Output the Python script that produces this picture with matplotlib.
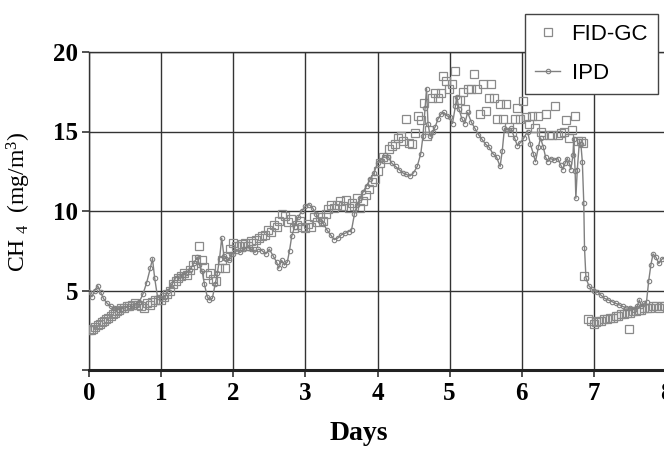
import matplotlib
matplotlib.use("Agg")
import matplotlib.pyplot as plt

plt.rcParams['mathtext.fontset'] = 'custom'
plt.rcParams['mathtext.rm'] = 'Liberation Serif'
plt.rcParams['mathtext.it'] = 'Liberation Serif:italic'

# IPD readings (days, mg/m3)
ipd_days = [0.00, 0.04, 0.08, 0.12, 0.16, 0.20, 0.25, 0.30, 0.35, 0.40, 0.45, 0.50,
            0.55, 0.60, 0.65, 0.70, 0.75, 0.80, 0.85, 0.88, 0.91, 0.95, 1.00, 1.05,
            1.10, 1.15, 1.20, 1.25, 1.30, 1.35, 1.40, 1.45, 1.50, 1.53, 1.57, 1.60,
            1.64, 1.67, 1.71, 1.75, 1.78, 1.81, 1.84, 1.87, 1.90, 1.94, 1.97, 2.00,
            2.05, 2.10, 2.15, 2.20, 2.25, 2.30, 2.35, 2.40, 2.45, 2.50, 2.55, 2.60,
            2.63, 2.67, 2.71, 2.75, 2.78, 2.81, 2.85, 2.90, 2.95, 3.00, 3.05, 3.10,
            3.15, 3.20, 3.25, 3.30, 3.35, 3.40, 3.45, 3.50, 3.55, 3.60, 3.64, 3.68,
            3.72, 3.76, 3.80, 3.85, 3.90, 3.95, 4.00, 4.05, 4.10, 4.15, 4.20, 4.25,
            4.30, 4.35, 4.40, 4.45, 4.50, 4.55, 4.60, 4.63, 4.66, 4.68, 4.70, 4.73,
            4.77, 4.80, 4.84, 4.88, 4.92, 4.96, 5.00, 5.04, 5.08, 5.10, 5.13, 5.17,
            5.21, 5.25, 5.30, 5.35, 5.40, 5.45, 5.50, 5.55, 5.60, 5.65, 5.70, 5.73,
            5.76, 5.80, 5.85, 5.90, 5.94, 5.98, 6.03, 6.08, 6.12, 6.16, 6.19, 6.23,
            6.26, 6.30, 6.33, 6.36, 6.40, 6.45, 6.50, 6.54, 6.57, 6.60, 6.63, 6.66,
            6.68, 6.71, 6.72, 6.74, 6.75, 6.77, 6.80, 6.82, 6.84, 6.86, 6.87, 6.89,
            6.93, 6.97, 7.00, 7.05, 7.10, 7.15, 7.20, 7.25, 7.30, 7.35, 7.40, 7.45,
            7.50, 7.55, 7.60, 7.63, 7.66, 7.70, 7.73, 7.76, 7.79, 7.82, 7.86, 7.90,
            7.95, 8.00]
ipd_vals = [4.9, 4.6, 5.0, 5.3, 4.9, 4.5, 4.2, 4.0, 3.9, 3.8, 3.85, 3.9,
            4.0, 4.0, 4.1, 4.3, 4.8, 5.5, 6.4, 7.0, 5.8, 4.6, 4.5, 4.6,
            5.0, 5.4, 5.8, 5.9, 6.0, 6.1, 6.3, 6.7, 7.1, 6.6, 6.2, 5.4,
            4.6, 4.4, 4.5, 5.4, 6.1, 7.0, 8.3, 7.2, 7.0, 6.9, 7.3, 7.3,
            7.5, 7.4, 7.6, 7.7, 7.6, 7.4, 7.6, 7.5, 7.3, 7.6, 7.2, 6.8,
            6.4, 6.9, 6.6, 6.8, 7.5, 8.4, 9.0, 9.6, 10.0, 10.3, 10.4, 10.2,
            9.8, 9.4, 9.2, 8.8, 8.5, 8.2, 8.3, 8.5, 8.6, 8.7, 8.8, 9.8,
            10.4, 10.8, 11.2, 11.6, 12.0, 12.4, 13.0, 13.2, 13.5, 13.4, 13.0, 12.8,
            12.6, 12.4, 12.3, 12.2, 12.4, 12.8, 13.6, 14.7, 16.5, 17.7, 15.5, 14.7,
            15.0, 15.3, 15.8, 16.1, 16.2, 16.0, 15.9, 15.5, 16.6, 17.2, 16.4, 15.8,
            15.5, 16.2, 15.6, 15.2, 14.8, 14.5, 14.2, 14.0, 13.6, 13.4, 12.8, 13.8,
            15.2, 15.1, 15.2, 14.6, 14.1, 14.3, 14.6, 15.0, 14.2, 13.6, 13.1, 14.0,
            14.6, 14.0, 13.4, 13.1, 13.3, 13.2, 13.3, 12.9, 12.6, 13.0, 13.3, 13.0,
            12.6, 13.5, 14.5, 12.5, 10.8, 12.6, 14.4, 14.2, 13.1, 10.5, 7.7, 5.8,
            5.3, 5.1, 5.0, 4.9, 4.7, 4.5, 4.4, 4.3, 4.2, 4.1, 4.0, 3.9,
            3.9, 3.8, 4.0, 4.4, 4.0, 4.2, 4.3, 5.6, 6.6, 7.3, 7.1, 6.7,
            7.0, 7.0]

# FID-GC readings (days, mg/m3)
gc_days = [0.00, 0.03, 0.06, 0.09, 0.12, 0.15, 0.18, 0.21, 0.24, 0.27, 0.30, 0.33,
           0.36, 0.39, 0.42, 0.45, 0.48, 0.52, 0.56, 0.60, 0.64, 0.68, 0.72, 0.76,
           0.80, 0.84, 0.88, 0.92, 0.96, 1.00, 1.04, 1.08, 1.12, 1.16, 1.20, 1.24,
           1.28, 1.32, 1.36, 1.40, 1.44, 1.48, 1.52, 1.56, 1.60, 1.64, 1.68, 1.72,
           1.76, 1.80, 1.84, 1.88, 1.92, 1.96, 2.00, 2.04, 2.08, 2.12, 2.16, 2.20,
           2.24, 2.28, 2.32, 2.36, 2.40, 2.44, 2.48, 2.52, 2.56, 2.60, 2.64, 2.68,
           2.72, 2.76, 2.80, 2.84, 2.88, 2.92, 2.96, 3.00, 3.04, 3.08, 3.12, 3.16,
           3.20, 3.24, 3.28, 3.32, 3.36, 3.40, 3.44, 3.48, 3.52, 3.56, 3.60, 3.64,
           3.68, 3.72, 3.76, 3.80, 3.84, 3.88, 3.92, 3.96, 4.00, 4.04, 4.08, 4.12,
           4.16, 4.20, 4.24, 4.28, 4.32, 4.36, 4.40, 4.44, 4.48, 4.52, 4.56, 4.60,
           4.64, 4.68, 4.72, 4.76, 4.80, 4.84, 4.88, 4.91, 4.95, 4.99, 5.03, 5.07,
           5.10, 5.14, 5.18, 5.22, 5.26, 5.30, 5.34, 5.38, 5.42, 5.46, 5.50, 5.54,
           5.58, 5.62, 5.66, 5.70, 5.74, 5.78, 5.82, 5.86, 5.90, 5.94, 5.98, 6.02,
           6.06, 6.10, 6.14, 6.18, 6.22, 6.26, 6.30, 6.34, 6.38, 6.42, 6.46, 6.50,
           6.54, 6.58, 6.62, 6.66, 6.70, 6.74, 6.78, 6.82, 6.85, 6.87, 6.92, 6.96,
           7.00, 7.03, 7.06, 7.10, 7.14, 7.18, 7.22, 7.26, 7.30, 7.34, 7.38, 7.42,
           7.46, 7.49, 7.50, 7.54, 7.58, 7.62, 7.66, 7.70, 7.74, 7.78, 7.82, 7.86,
           7.90, 7.94, 7.98]
gc_vals = [2.5, 2.5, 2.6, 2.7, 2.8, 2.9, 3.0, 3.1, 3.2, 3.3, 3.4, 3.5,
           3.6, 3.7, 3.8, 3.9, 3.9, 4.0, 4.0, 4.1, 4.2, 4.1, 4.0, 3.9,
           4.2, 4.1, 4.3, 4.4, 4.4, 4.4, 4.6, 4.8, 5.0, 5.4, 5.6, 5.8,
           5.9, 6.1, 6.0, 6.3, 6.6, 7.0, 7.8, 6.9, 6.5, 6.0, 6.1, 5.7,
           5.6, 6.4, 6.9, 6.4, 7.2, 7.6, 8.0, 7.8, 7.8, 7.9, 8.0, 7.8,
           8.1, 8.0, 8.2, 8.3, 8.4, 8.5, 8.8, 8.7, 9.1, 9.0, 9.4, 9.8,
           9.7, 9.3, 9.5, 8.9, 9.1, 9.4, 9.0, 8.9, 9.2, 9.0, 9.6, 9.3,
           9.6, 9.4, 9.8, 10.1, 10.4, 10.2, 10.4, 10.6, 10.3, 10.7, 10.2, 10.5,
           10.3, 10.8, 10.2, 10.6, 11.0, 11.4, 11.8, 12.0, 12.5, 13.0, 13.4, 13.3,
           13.9, 14.1, 14.2, 14.6, 14.7, 14.4, 15.8, 14.3, 14.2, 14.9, 16.0, 15.7,
           16.8, 14.7, 15.1, 17.1, 17.4, 17.1, 17.4, 18.5, 18.2, 17.7, 18.0, 18.8,
           17.0, 17.0, 17.5, 16.4, 17.7, 17.7, 18.6, 17.7, 16.1, 18.0, 16.3, 17.1,
           18.0, 17.1, 15.8, 16.7, 15.8, 16.7, 15.3, 15.0, 15.8, 16.5, 15.8, 16.9,
           15.9, 15.5, 16.0, 15.2, 16.0, 15.0, 14.8, 16.1, 14.8, 14.8, 16.6, 14.8,
           14.9, 15.0, 15.7, 14.6, 15.1, 16.0, 14.4, 14.4, 14.3, 5.9, 3.2, 3.1,
           2.9, 3.0, 3.1, 3.1, 3.2, 3.2, 3.3, 3.3, 3.4, 3.4, 3.5, 3.5,
           3.6, 2.6, 3.6, 3.7, 3.7, 3.8, 3.8, 3.9, 3.9, 3.9, 4.0, 4.0,
           3.9, 4.0, 4.0]

fig = plt.figure(figsize=(6.64, 4.51), dpi=100)
ax = fig.add_axes([89 / 664, 81 / 451, 577 / 664, 318 / 451])

ax.plot(gc_days, gc_vals, linestyle='none', marker='s', markersize=5.5,
        markerfacecolor='none', markeredgecolor='#8a8a8a', markeredgewidth=0.9,
        label='FID-GC', zorder=3)
ax.plot(ipd_days, ipd_vals, color='#808080', linewidth=1.0, marker='o',
        markersize=3.2, markerfacecolor='none', markeredgecolor='#808080',
        markeredgewidth=0.8, label='IPD', zorder=4)

ax.set_xlim(0, 8)
ax.set_ylim(0, 20)
ax.set_xticks(range(0, 9))
ax.set_yticks([0, 5, 10, 15, 20])
ax.set_yticklabels(['', '5', '10', '15', '20'])
ax.grid(True, color='#333333', linewidth=1.0)
ax.set_axisbelow(True)

for lab in ax.get_xticklabels() + ax.get_yticklabels():
    lab.set_fontfamily('Liberation Serif')
    lab.set_fontweight('bold')
    lab.set_fontsize(18)
ax.tick_params(axis='both', direction='out', length=5, width=1.2, color='#333333')
ax.tick_params(axis='x', pad=4)
ax.tick_params(axis='y', pad=3)

for s in ['left', 'top', 'right']:
    ax.spines[s].set_linewidth(1.0)
    ax.spines[s].set_color('#333333')
ax.spines['bottom'].set_linewidth(2.2)
ax.spines['bottom'].set_color('#222222')

ax.set_xlabel('Days', fontfamily='Liberation Serif', fontweight='bold', fontsize=20)
ax.xaxis.set_label_coords(0.468, -0.16)
ax.set_ylabel('CH $_4$  (mg/m$^3$)', fontfamily='Liberation Serif', fontsize=17)
ax.yaxis.set_label_coords(-0.097, 0.53)

leg = ax.legend(loc='upper right', bbox_to_anchor=(658 / 664, 1 - 14 / 451),
                bbox_transform=fig.transFigure, borderaxespad=0, numpoints=1,
                fancybox=False, framealpha=1, edgecolor='#444444', borderpad=0.45,
                handlelength=1.15, handletextpad=0.5, labelspacing=0.8,
                prop={'family': 'Liberation Sans', 'size': 16})
leg.get_frame().set_linewidth(1.0)
leg.set_zorder(10)

fig.savefig('out.png', dpi=100)
